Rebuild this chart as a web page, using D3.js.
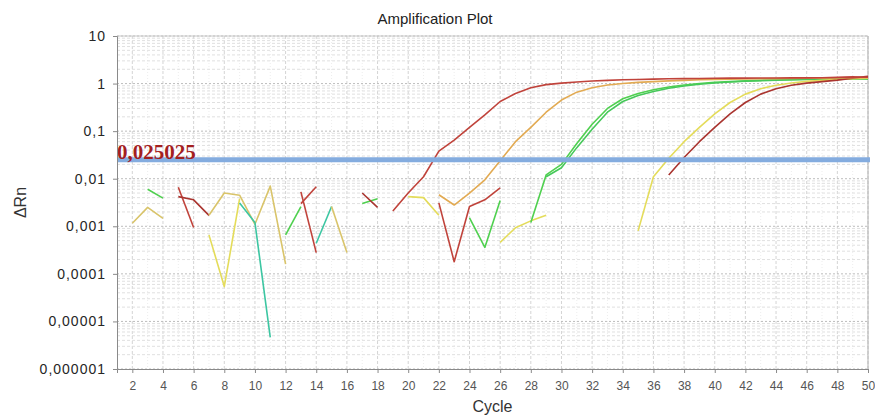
<!DOCTYPE html>
<html>
<head>
<meta charset="utf-8">
<script src="https://cdn.jsdelivr.net/npm/d3@7"></script>
<style>
  body { margin: 0; background: #fff; }
  svg { display: block; font-family: 'Liberation Sans', Arial, sans-serif; }
</style>
</head>
<body>
<div id="chart"></div>
<script>
// tick labels
const xTicks = d3.range(2, 51, 2);
const yTicks = [10, 1, 0.1, 0.01, 0.001, 0.0001, 0.00001, 0.000001];
const yTickLabels = ['10', '1', '0,1', '0,01', '0,001', '0,0001', '0,00001', '0,000001'];

const threshold = 0.025025;
const thresholdLabel = '0,025025';

// amplification curves (first value is at the start cycle)
const redEarly = [0.0021, 0.005, 0.011, 0.038, 0.065, 0.12, 0.22, 0.42, 0.62, 0.82, 0.95, 1.02,
  1.08, 1.13, 1.17, 1.2, 1.22, 1.24, 1.26, 1.27, 1.28, 1.29, 1.3, 1.3, 1.31, 1.31, 1.32, 1.32,
  1.33, 1.35, 1.38, 1.36];
const orangeCurve = [0.0046, 0.0028, 0.005, 0.0095, 0.024, 0.06, 0.12, 0.25, 0.45, 0.66, 0.82, 0.93,
  1.0, 1.06, 1.1, 1.14, 1.17, 1.2, 1.22, 1.24, 1.25, 1.26, 1.27, 1.28, 1.29, 1.3, 1.32, 1.34, 1.33];
const greenCurveA = [0.0012, 0.012, 0.02, 0.055, 0.14, 0.3, 0.48, 0.62, 0.74, 0.85, 0.93, 1.0,
  1.06, 1.1, 1.14, 1.17, 1.19, 1.21, 1.23, 1.24, 1.25, 1.26, 1.26];
const greenCurveB = [0.011, 0.017, 0.045, 0.11, 0.25, 0.42, 0.56, 0.68, 0.8, 0.89, 0.97, 1.03,
  1.08, 1.12, 1.15, 1.18, 1.2, 1.22, 1.23, 1.24, 1.25, 1.25];
const yellowLate = [0.0008, 0.011, 0.027, 0.06, 0.12, 0.23, 0.4, 0.6, 0.78, 0.92, 1.03, 1.11,
  1.17, 1.22, 1.27, 1.3];
const redLate = [0.012, 0.028, 0.06, 0.12, 0.23, 0.4, 0.6, 0.78, 0.92, 1.02, 1.1, 1.18, 1.3, 1.42];

// baseline noise fragments
const tanN1 = [0.00116, 0.0025, 0.00147];
const greenN1 = [0.006, 0.0039];
const redN1 = [0.0066, 0.00094];
const redN2 = [0.0042, 0.0036, 0.0017];
const tanN2 = [0.0017, 0.005, 0.0045, 0.0011, 0.007, 0.00016];
const yellowN1 = [0.00066, 0.000054, 0.0038];
const greenN2 = [0.0031, 0.0012, 0.0000046];
const greenN3 = [0.00066, 0.0026];
const redN3 = [0.0053, 0.00028];
const redN4 = [0.003, 0.0068];
const tealN1 = [0.00044, 0.0026];
const tanN3 = [0.0026, 0.00028];
const greenN4 = [0.003, 0.0038];
const redN5 = [0.005, 0.0025];
const yellowN2 = [0.0042, 0.004, 0.0017];
const redN6 = [0.0031, 0.00018, 0.0026, 0.0036, 0.0064];
const greenN5 = [0.0015, 0.00036, 0.0035];
const yellowN3 = [0.00046, 0.00093, 0.0013, 0.0017];

const colors = {
  red: '#c0433b', darkred: '#a9342f', orange: '#e2aa52', tan: '#d9c46a',
  yellow: '#e4dc5a', green: '#4fd04f', teal: '#3cc6a2'
};

const series = [
  { values: tanN1, start: 2, color: colors.tan },
  { values: greenN1, start: 3, color: colors.green },
  { values: redN1, start: 5, color: colors.red },
  { values: redN2, start: 5, color: colors.darkred },
  { values: tanN2, start: 7, color: colors.tan },
  { values: yellowN1, start: 7, color: colors.yellow },
  { values: greenN2, start: 9, color: colors.teal },
  { values: greenN3, start: 12, color: colors.green },
  { values: redN3, start: 13, color: colors.red },
  { values: redN4, start: 13, color: colors.red },
  { values: tealN1, start: 14, color: colors.teal },
  { values: tanN3, start: 15, color: colors.tan },
  { values: greenN4, start: 17, color: colors.green },
  { values: redN5, start: 17, color: colors.darkred },
  { values: yellowN2, start: 20, color: colors.yellow },
  { values: redN6, start: 22, color: colors.red },
  { values: greenN5, start: 24, color: colors.green },
  { values: yellowN3, start: 26, color: colors.yellow },
  { values: greenCurveA, start: 28, color: colors.green },
  { values: greenCurveB, start: 29, color: '#46c85a' },
  { values: yellowLate, start: 35, color: colors.yellow },
  { values: redLate, start: 37, color: colors.darkred },
  { values: orangeCurve, start: 22, color: colors.orange },
  { values: redEarly, start: 19, color: colors.red }
];

const W = 875, H = 419;
const margin = { top: 36, right: 7, bottom: 50, left: 117 };

const svg = d3.select('#chart').append('svg')
  .attr('width', W)
  .attr('height', H);

const x = d3.scaleLinear()
  .domain([1, 50])
  .range([margin.left, W - margin.right]);

const y = d3.scaleLog()
  .domain([1e-6, 10])
  .range([H - margin.bottom, margin.top]);

// grid
const grid = svg.append('g').attr('class', 'grid');

d3.range(2, 51).forEach((c) => {
  grid.append('line')
    .attr('x1', x(c)).attr('x2', x(c))
    .attr('y1', margin.top).attr('y2', H - margin.bottom)
    .attr('stroke', c % 2 === 0 ? '#d4d4d4' : '#ededed')
    .attr('stroke-dasharray', c % 2 === 0 ? '3,2' : '1,2')
    .attr('stroke-width', 1);
});

yTicks.forEach((t) => {
  if (t < 10) {
    d3.range(2, 10).forEach((m) => {
      grid.append('line')
        .attr('x1', margin.left).attr('x2', W - margin.right)
        .attr('y1', y(t * m)).attr('y2', y(t * m))
        .attr('stroke', '#e0e0e0')
        .attr('stroke-dasharray', '3,2');
    });
  }
  grid.append('line')
    .attr('x1', margin.left).attr('x2', W - margin.right)
    .attr('y1', y(t)).attr('y2', y(t))
    .attr('stroke', '#bdbdbd')
    .attr('stroke-dasharray', '2,2');
});

// frame
svg.append('line')
  .attr('x1', margin.left).attr('x2', W - margin.right)
  .attr('y1', margin.top).attr('y2', margin.top)
  .attr('stroke', '#c8c8c8');
svg.append('line')
  .attr('x1', W - margin.right).attr('x2', W - margin.right)
  .attr('y1', margin.top).attr('y2', H - margin.bottom)
  .attr('stroke', '#b0b0b0');

// curves
const line = d3.line()
  .x(d => x(d.c))
  .y(d => y(d.v));

svg.append('g').attr('class', 'curves')
  .selectAll('path')
  .data(series)
  .enter().append('path')
  .attr('d', s => line(s.values.map((v, i) => ({ c: s.start + i, v }))))
  .attr('fill', 'none')
  .attr('stroke', s => s.color)
  .attr('stroke-width', 1.6)
  .attr('stroke-linejoin', 'round');

// threshold
svg.append('line')
  .attr('x1', margin.left).attr('x2', W - margin.right + 2)
  .attr('y1', y(threshold)).attr('y2', y(threshold))
  .attr('stroke', '#84acdf')
  .attr('stroke-width', 5);

svg.append('text')
  .attr('x', margin.left)
  .attr('y', y(threshold) - 1)
  .attr('font-family', "'Liberation Serif', 'Times New Roman', serif")
  .attr('font-weight', 'bold')
  .attr('font-size', 21)
  .attr('fill', '#a3201f')
  .text(thresholdLabel);

// axes
const xAxis = d3.axisBottom(x)
  .tickValues(xTicks)
  .tickSize(4)
  .tickPadding(8);

const gx = svg.append('g')
  .attr('transform', `translate(0, ${H - margin.bottom})`)
  .call(xAxis);
gx.select('.domain').attr('stroke', '#8a8a8a');
gx.selectAll('.tick line').attr('stroke', '#8a8a8a');
gx.selectAll('text')
  .attr('font-size', 12)
  .attr('fill', '#555')
  .attr('font-family', "'Liberation Sans', Arial, sans-serif");

const yAxis = d3.axisLeft(y)
  .tickValues(yTicks)
  .tickFormat((d, i) => yTickLabels[i])
  .tickSize(4)
  .tickPadding(7);

const gy = svg.append('g')
  .attr('transform', `translate(${margin.left}, 0)`)
  .call(yAxis);
gy.select('.domain').attr('stroke', '#8a8a8a');
gy.selectAll('.tick line').attr('stroke', '#8a8a8a');
gy.selectAll('text')
  .attr('font-size', 14)
  .attr('fill', '#262626')
  .attr('letter-spacing', 1)
  .attr('font-family', "'Liberation Sans', Arial, sans-serif");

// titles
svg.append('text')
  .attr('x', 435)
  .attr('y', 24)
  .attr('text-anchor', 'middle')
  .attr('font-size', 15)
  .attr('fill', '#222')
  .text('Amplification Plot');

svg.append('text')
  .attr('x', (margin.left + W - margin.right) / 2)
  .attr('y', 412)
  .attr('text-anchor', 'middle')
  .attr('font-size', 16)
  .attr('fill', '#333')
  .text('Cycle');

svg.append('text')
  .attr('transform', `translate(26, ${(margin.top + H - margin.bottom) / 2}) rotate(-90)`)
  .attr('text-anchor', 'middle')
  .attr('font-size', 16)
  .attr('fill', '#333')
  .text('ΔRn');
</script>
</body>
</html>
